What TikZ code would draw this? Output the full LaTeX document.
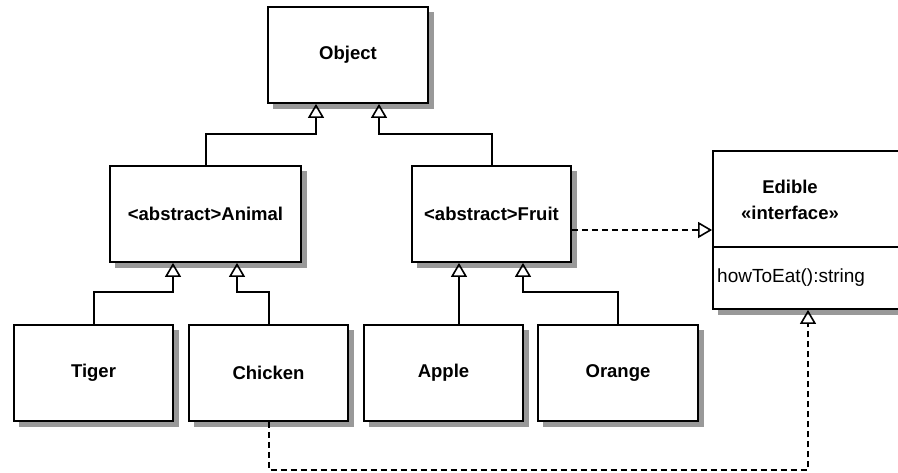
\documentclass[tikz,border=0pt]{standalone}
\usepackage{fontspec}
\setmainfont{Liberation Sans}
\usetikzlibrary{arrows.meta,calc}
\pgfdeclarelayer{bg}
\pgfsetlayers{bg,main}
\begin{document}
\begin{tikzpicture}[x=1pt,y=-1pt,
  cls/.style={draw, line width=1.8pt, fill=white, minimum height=96pt, inner sep=0pt,
    font=\bfseries\fontsize{18.5}{22}\selectfont},
  shd/.style={fill=black!40, draw=none},
  conn/.style={line width=2pt},
  inh/.style={conn, -{Triangle[open, width=16pt, length=14pt, line width=1.6pt]}},
  realz/.style={inh, dash pattern=on 6pt off 4pt},
]
\useasboundingbox (0,0) rectangle (898,472);
\clip (0,0) rectangle (898,472);

\node[cls, minimum width=160pt] (object) at (348,55) {Object};
\node[cls, minimum width=191pt] (animal) at (205.5,214) {<abstract>Animal};
\node[cls, minimum width=159pt] (fruit) at (491.5,214) {<abstract>Fruit};
\node[cls, minimum width=159pt] (tiger) at (93.5,373) {Tiger};
\node[cls, minimum width=159pt] (chicken) at (268.5,373) {Chicken};
\node[cls, minimum width=159pt] (apple) at (443.5,373) {Apple};
\node[cls, minimum width=160pt] (orange) at (618,373) {Orange};
\node[cls, minimum width=190pt, minimum height=158pt] (edible) at (808,230) {};
\begin{pgfonlayer}{bg}
\clip (0,0) rectangle (898,472);
\foreach \n in {object,animal,fruit,tiger,chicken,apple,orange,edible}
  \fill[shd] ([shift={(5.5,5.5)}]\n.north west) rectangle ([shift={(5.5,5.5)}]\n.south east);
\end{pgfonlayer}
\draw[conn] (edible.west |- 0,247) -- (edible.east |- 0,247);
\node[font=\bfseries\fontsize{18.5}{22}\selectfont, inner sep=0pt] (ename) at (790,187) {Edible};
\node[font=\bfseries\fontsize{18.5}{22}\selectfont, inner sep=0pt] (estereo) at (790,213) {«interface»};
\node[font=\fontsize{19}{22}\selectfont, inner sep=0pt, anchor=west] (emeth) at (717,278) {howToEat():string};

\coordinate (fa) at ($(fruit.south)+(-32.5,0)$);
\coordinate (fe) at ([yshift=-16pt]fruit.east);

\draw[inh] (animal.north) -- ++(0,-31) -| ($(object.south)+(-32,0)$);
\draw[inh] (fruit.north) -- ++(0,-31) -| ($(object.south)+(31,0)$);
\draw[inh] (tiger.north) -- ++(0,-32) -| ($(animal.south)+(-32.5,0)$);
\draw[inh] (chicken.north) -- ++(0,-32) -| ($(animal.south)+(31.5,0)$);
\draw[inh] (fa |- apple.north) -- (fa);
\draw[inh] (orange.north) -- ++(0,-32) -| ($(fruit.south)+(31.5,0)$);
\draw[realz] (fe) -- (fe -| edible.west);
\draw[realz] (chicken.south) -- ++(0,48) -| (edible.south);
\end{tikzpicture}
\end{document}
